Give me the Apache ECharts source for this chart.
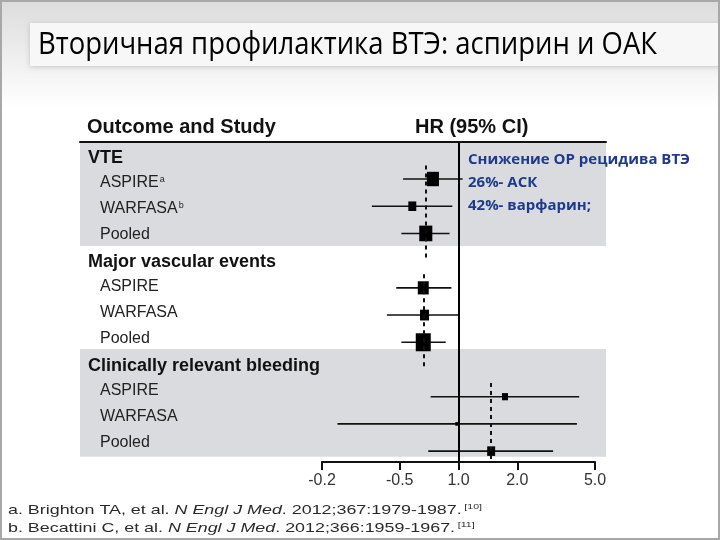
<!DOCTYPE html>
<html><head><meta charset="utf-8">
<script src="https://cdn.jsdelivr.net/npm/echarts@6/dist/echarts.min.js"></script>
<style>html,body{margin:0;padding:0;background:#fff}#c{width:720px;height:540px}</style>
</head><body><div id="c"></div>
<script>
// ---------- data ----------
const titleText = 'Вторичная профилактика ВТЭ: аспирин и ОАК';
const headerLeft = 'Outcome and Study';
const headerRight = 'HR (95% CI)';
const groupNames = ['VTE', 'Major vascular events', 'Clinically relevant bleeding'];
const studyNames = ['ASPIRE', 'WARFASA', 'Pooled'];
const vteSuperscripts = ['a', 'b', ''];

const hrVTE = [0.74, 0.58, 0.68];
const lowVTE = [0.52, 0.36, 0.51];
const highVTE = [1.05, 0.93, 0.90];
const weightVTE = [0.80, 0.53, 0.87];

const hrMVE = [0.66, 0.67, 0.66];
const lowMVE = [0.48, 0.43, 0.51];
const highMVE = [0.92, 1.01, 0.86];
const weightMVE = [0.73, 0.60, 1.00];

const hrBleed = [1.73, 0.98, 1.47];
const lowBleed = [0.72, 0.24, 0.70];
const highBleed = [4.15, 4.04, 3.05];
const weightBleed = [0.40, 0.20, 0.53];

const tickValues = [0.2, 0.5, 1, 2, 5];
const tickLabels = ['-0.2', '-0.5', '1.0', '2.0', '5.0'];

const noteLines = ['Снижение ОР рецидива ВТЭ', '26%- АСК', '42%- варфарин;'];
const refLines = [
  ['a. Brighton TA, et al. ', 'N Engl J Med', '. 2012;367:1979-1987.', '[10]'],
  ['b. Becattini C, et al. ', 'N Engl J Med', '. 2012;366:1959-1967.', '[11]']
];

// ---------- build ----------
const lg = v => Math.log10(v);
const groups = [
  {hr: hrVTE, lo: lowVTE, hi: highVTE, w: weightVTE, sup: vteSuperscripts},
  {hr: hrMVE, lo: lowMVE, hi: highMVE, w: weightMVE, sup: ['', '', '']},
  {hr: hrBleed, lo: lowBleed, hi: highBleed, w: weightBleed, sup: ['', '', '']}
];
const rowLabels = [];
const ciData = [];
const dashPairs = [];
groups.forEach((g, gi) => {
  const base = rowLabels.length;
  rowLabels.push('{h|' + groupNames[gi] + '}');
  studyNames.forEach((s, si) => {
    const k = rowLabels.length;
    rowLabels.push('{s|' + s + '}' + (g.sup[si] ? '{sup|' + g.sup[si] + '}' : ''));
    ciData.push([lg(g.hr[si]), lg(g.lo[si]), lg(g.hi[si]), k, g.w[si]]);
  });
  const pooledHR = lg(g.hr[2]);
  dashPairs.push([{coord: [pooledHR, base + 0.5]}, {coord: [pooledHR, base + (gi === 2 ? 3.3 : 4.0)]}]);
});

// plot rows (markers) and text rows use slightly different pitch, as in the source figure
const Y_MIN = -0.36, Y_MAX = 11.4;
const L_MIN = -0.58, L_MAX = 11.73;
const bands = [[-0.58, 3.42], [7.38, 11.53]];

const ctx = document.createElement('canvas').getContext('2d');
function tw(t, font) { ctx.font = font; return ctx.measureText(t).width; }

const titleFont = '31px "Open Sans"';
const titleScale = 619 / tw(titleText, titleFont);
const noteFont = 'bold 15px "Open Sans"';
const noteScale = 222 / tw(noteLines[0], noteFont);
const refFont = '13.5px "Liberation Sans"';
const refItFont = 'italic 13.5px "Liberation Sans"';
const refSupFont = '8px "Liberation Sans"';
function refWidth(r) { return tw(r[0], refFont) + tw(r[1], refItFont) + tw(r[2], refFont) + tw(r[3], refSupFont) + 2; }
const refScale = 474 / refWidth(refLines[0]);

const graphics = [
  {type: 'rect', z: -10, shape: {x: 0, y: 0, width: 720, height: 540},
   style: {fill: new echarts.graphic.LinearGradient(0, 0, 0, 1, [
     {offset: 0, color: '#dcdcdc'}, {offset: 0.2, color: '#ffffff'}, {offset: 1, color: '#ffffff'}])}},
  {type: 'rect', z: -9, shape: {x: 30, y: 23, width: 700, height: 43},
   style: {fill: '#f7f7f7', shadowBlur: 5, shadowColor: 'rgba(0,0,0,0.18)', shadowOffsetY: 1}},
  {type: 'rect', z: 50, shape: {x: 1, y: 1, width: 718, height: 538},
   style: {fill: 'none', stroke: '#a8a8a8', lineWidth: 2}},
  {type: 'text', z: 5, x: 38, y: 45, scaleX: titleScale,
   style: {text: titleText, font: titleFont, fill: '#000', textVerticalAlign: 'middle'}},
  {type: 'text', z: 5, x: 87, y: 127,
   style: {text: headerLeft, font: 'bold 20px "Liberation Sans"', fill: '#111', textVerticalAlign: 'middle'}},
  {type: 'text', z: 5, x: 415, y: 127,
   style: {text: headerRight, font: 'bold 20px "Liberation Sans"', fill: '#111', textVerticalAlign: 'middle'}}
];
const noteY = [160, 183, 206];
noteLines.forEach((t, i) => graphics.push({type: 'text', z: 5, x: 468, y: noteY[i], scaleX: noteScale,
  style: {text: t, font: noteFont, fill: '#1f3a8c', textVerticalAlign: 'middle'}}));
const refY = [510, 528];
refLines.forEach((r, i) => graphics.push({type: 'text', z: 5, x: 8, y: refY[i], scaleX: refScale,
  style: {text: '{n|' + r[0] + '}{i|' + r[1] + '}{n|' + r[2] + '}{sup|' + r[3] + '}',
    textVerticalAlign: 'middle', fill: '#2a2a2a',
    rich: {n: {font: refFont, fill: '#2a2a2a'}, i: {font: refItFont, fill: '#2a2a2a'},
      sup: {font: refSupFont, fill: '#2a2a2a', verticalAlign: 'top', padding: [0, 0, 6, 2]}}}}));

const chart = echarts.init(document.getElementById('c'));
chart.setOption({
  backgroundColor: 'transparent',
  animation: false,
  graphic: {elements: graphics},
  grid: [
    {left: 80, right: 114, top: 142, bottom: 78},
    {left: 322, right: 125, top: 142, bottom: 78}
  ],
  xAxis: [
    {gridIndex: 0, type: 'value', min: 0, max: 1, position: 'top', z: 10,
     axisLine: {show: true, onZero: false, lineStyle: {color: '#111', width: 2}},
     axisTick: {show: false}, axisLabel: {show: false}, splitLine: {show: false}},
    {gridIndex: 1, type: 'value', min: lg(0.2), max: lg(5), position: 'bottom', z: 10,
     axisLine: {show: true, onZero: false, lineStyle: {color: '#111', width: 2}},
     axisTick: {show: true, customValues: tickValues.map(lg), length: 8, lineStyle: {color: '#111', width: 2}},
     axisLabel: {customValues: tickValues.map(lg), fontSize: 16, color: '#333', margin: 11,
       fontFamily: '"Liberation Sans"',
       formatter: v => {
         let best = 0;
         tickValues.forEach((t, i) => { if (Math.abs(lg(t) - v) < Math.abs(lg(tickValues[best]) - v)) best = i; });
         return tickLabels[best];
       }},
     splitLine: {show: false}}
  ],
  yAxis: [
    {gridIndex: 0, type: 'value', inverse: true, min: L_MIN, max: L_MAX, z: 10,
     axisLine: {show: false}, axisTick: {show: false}, splitLine: {show: false},
     axisLabel: {inside: true, margin: 8, align: 'left', customValues: rowLabels.map((_, i) => i),
       formatter: v => rowLabels[Math.round(v)],
       rich: {
         h: {fontFamily: '"Liberation Sans"', fontWeight: 'bold', fontSize: 18, color: '#111', padding: [2, 0, 0, 0]},
         s: {fontFamily: '"Liberation Sans"', fontSize: 16, color: '#222', padding: [0, 0, 0, 12]},
         sup: {fontFamily: '"Liberation Sans"', fontSize: 9, color: '#222', verticalAlign: 'top', padding: [0, 0, 6, 1]}
       }}},
    {gridIndex: 1, type: 'value', inverse: true, min: Y_MIN, max: Y_MAX, show: false}
  ],
  series: [
    {type: 'line', xAxisIndex: 0, yAxisIndex: 0, data: [], z: 1, silent: true,
     markArea: {silent: true, itemStyle: {color: '#d9dbde'},
       data: bands.map(b => [{yAxis: b[0]}, {yAxis: b[1]}])}},
    {type: 'line', xAxisIndex: 1, yAxisIndex: 1, data: [], z: 3, silent: true,
     markLine: {silent: true, symbol: 'none', label: {show: false},
       data: [
         {xAxis: 0, lineStyle: {type: 'solid', color: '#000', width: 2}},
         ...dashPairs.map(p => [Object.assign({lineStyle: {type: [4, 4], color: '#111', width: 2}}, p[0]), p[1]])
       ]}},
    {type: 'custom', xAxisIndex: 1, yAxisIndex: 1, z: 4, data: ciData,
     encode: {x: [0, 1, 2], y: 3},
     renderItem: (params, api) => {
       const k = api.value(3);
       const p0 = api.coord([api.value(1), k]);
       const p1 = api.coord([api.value(2), k]);
       const pc = api.coord([api.value(0), k]);
       const w = api.value(4) * 15, h = w * 1.2;
       return {type: 'group', children: [
         {type: 'line', shape: {x1: p0[0], y1: p0[1], x2: p1[0], y2: p1[1]}, style: {stroke: '#111', lineWidth: 1.6}},
         {type: 'rect', shape: {x: pc[0] - w / 2, y: pc[1] - h / 2, width: w, height: h}, style: {fill: '#000'}}
       ]};
     }}
  ]
});
</script></body></html>
